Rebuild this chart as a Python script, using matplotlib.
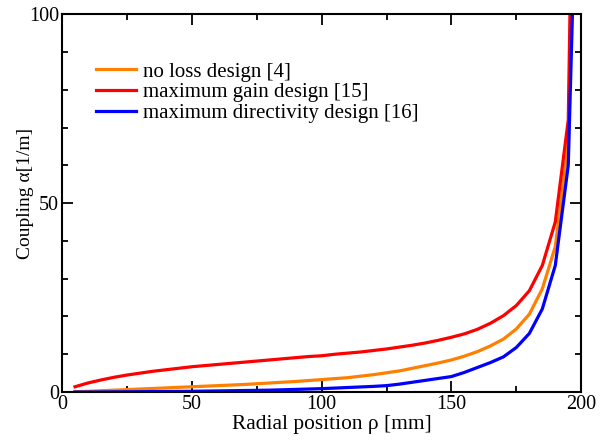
import numpy as np
import matplotlib
matplotlib.use("Agg")
import matplotlib.pyplot as plt
from matplotlib.ticker import MultipleLocator

plt.rcParams['font.family'] = ['Liberation Serif', 'DejaVu Serif']

# radial position [mm]
rho = [5, 10, 15, 20, 25, 30, 35, 40, 45, 50, 55, 60, 65, 70, 75, 80, 85, 90, 95,
       100, 105, 110, 115, 120, 125, 130, 135, 140, 145, 150, 155, 160, 165, 170,
       175, 180, 185, 190, 195, 197]

# coupling alpha [1/m]
no_loss = [0.1, 0.2, 0.35, 0.5, 0.65, 0.8, 0.95, 1.1, 1.25, 1.4, 1.55, 1.7, 1.85, 2.0,
           2.2, 2.4, 2.6, 2.8, 3.05, 3.3, 3.55, 3.8, 4.2, 4.6, 5.1, 5.6, 6.3, 7.0, 7.7,
           8.5, 9.5, 10.7, 12.2, 14.0, 16.7, 20.6, 27.3, 38.5, 66, 130]
max_gain = [1.4, 2.4, 3.2, 3.9, 4.5, 5.0, 5.5, 5.9, 6.3, 6.7, 7.0, 7.3, 7.6, 7.9, 8.2,
            8.5, 8.8, 9.1, 9.4, 9.6, 10.0, 10.3, 10.6, 11.0, 11.4, 11.9, 12.4, 13.0,
            13.7, 14.5, 15.4, 16.6, 18.2, 20.2, 22.9, 26.8, 33.5, 45, 72, 158]
max_dir = [0.0, 0.0, 0.02, 0.05, 0.07, 0.1, 0.12, 0.15, 0.18, 0.2, 0.25, 0.3, 0.35, 0.4,
           0.45, 0.5, 0.6, 0.7, 0.8, 0.9, 1.05, 1.2, 1.35, 1.5, 1.7, 2.1, 2.6, 3.1, 3.6,
           4.1, 5.2, 6.5, 7.8, 9.3, 11.8, 15.5, 22.0, 33.5, 60, 110]

fig = plt.figure(figsize=(6.08, 4.42), dpi=100)
ax = fig.add_axes([0.102, 0.113, 0.854, 0.855])

ax.plot(rho, no_loss, color='#ff8000', lw=2.3, label='no loss design [4]')
ax.plot(rho, max_gain, color='#ff0000', lw=2.3, label='maximum gain design [15]')
ax.plot(rho, max_dir, color='#0000ff', lw=2.3, label='maximum directivity design [16]')

ax.set_xlim(0, 200)
ax.set_ylim(0, 100)
ax.xaxis.set_major_locator(MultipleLocator(50))
ax.xaxis.set_minor_locator(MultipleLocator(25))
ax.yaxis.set_major_locator(MultipleLocator(50))
ax.yaxis.set_minor_locator(MultipleLocator(10))
ax.tick_params(which='both', direction='in', top=True, right=True, width=1.3,
               labelsize=14.5, pad=2)
ax.tick_params(which='major', length=8)
ax.tick_params(which='minor', length=4.5)
for s in ax.spines.values():
    s.set_linewidth(1.5)

ax.set_xlabel('Radial position \u03c1 [mm]', fontsize=15.4)
ax.set_ylabel('Coupling \u03b1[1/m]', fontsize=14)
ax.xaxis.set_label_coords(0.52, -0.062)
ax.yaxis.set_label_coords(-0.054, 0.526)

ax.legend(loc='upper left', bbox_to_anchor=(0.05, 0.895), frameon=False, fontsize=15,
          handlelength=1.9, handletextpad=0.35, labelspacing=0.05, borderaxespad=0)

fig.savefig('out.png', dpi=100)
